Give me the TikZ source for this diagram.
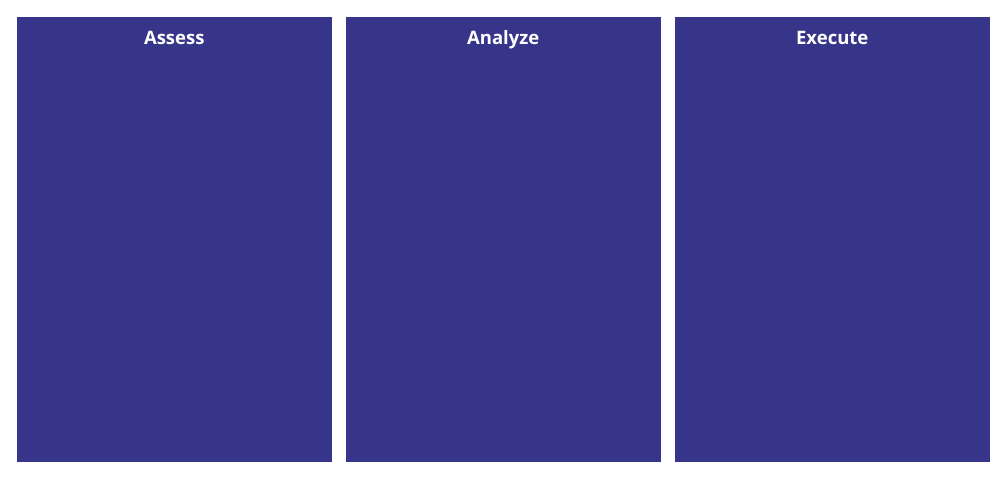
\documentclass[tikz,border=0pt]{standalone}
\usepackage{fontspec}
\setmainfont{Open Sans}
\definecolor{panel}{HTML}{36358A}
\begin{document}
\begin{tikzpicture}[x=1pt,y=-1pt,
  panelbox/.style={fill=panel,draw=none},
  paneltitle/.style={text=white,font=\bfseries\fontsize{18.5}{22}\selectfont,anchor=base,inner sep=0pt}]
\useasboundingbox (0,0) rectangle (1007,484);
\fill[panel] (17,17) rectangle (331.5,462) coordinate (p1);
\fill[panel] (346,17) rectangle (660.5,462) coordinate (p2);
\fill[panel] (675,17) rectangle (989.5,462) coordinate (p3);
\node[paneltitle] (t1) at (174.25,44.8) {Assess};
\node[paneltitle] (t2) at (503.25,44.8) {Analyze};
\node[paneltitle] (t3) at (832.25,44.8) {Execute};
\end{tikzpicture}
\end{document}
